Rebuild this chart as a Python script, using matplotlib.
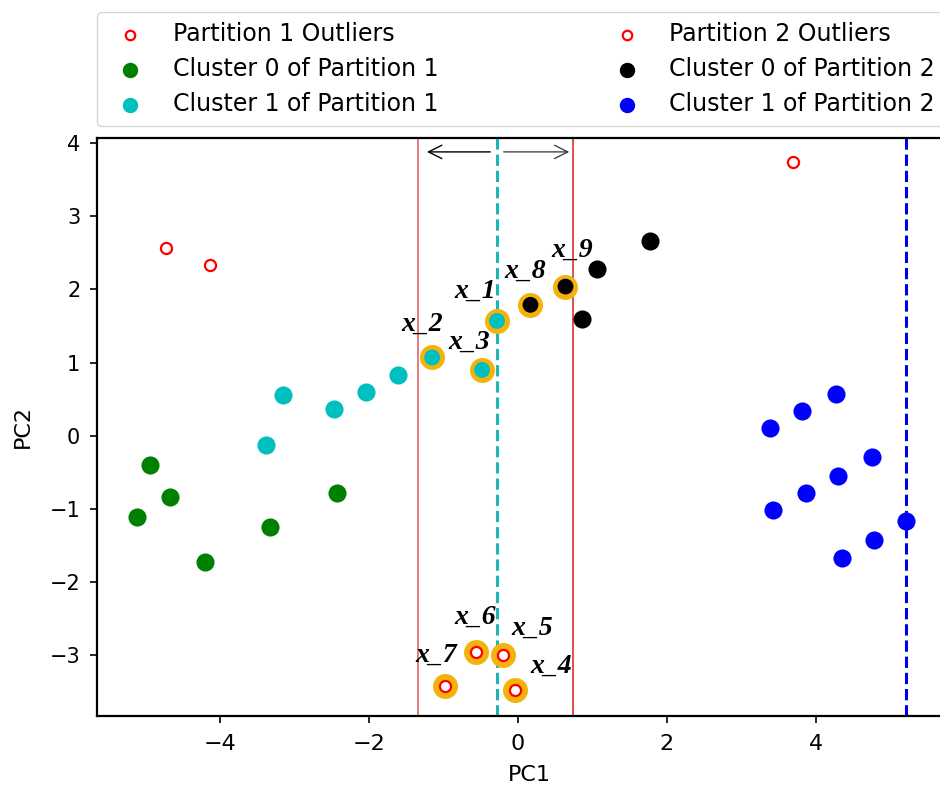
import matplotlib
matplotlib.use("Agg")
import matplotlib.pyplot as plt

# ---- data ----
p1_out_x = [-4.72, -4.13]
p1_out_y = [2.57, 2.34]
p2_out_x = [3.70]
p2_out_y = [3.74]

c0p1_x = [-4.94, -4.67, -5.11, -4.20, -3.33, -2.43]
c0p1_y = [-0.40, -0.83, -1.11, -1.73, -1.24, -0.78]

c1p1_x = [-3.38, -3.15, -2.47, -2.04, -1.61, -1.15, -0.48, -0.28]
c1p1_y = [-0.12, 0.56, 0.36, 0.60, 0.83, 1.07, 0.90, 1.57]

c0p2_x = [0.17, 0.64, 0.86, 1.06, 1.77]
c0p2_y = [1.79, 2.04, 1.60, 2.28, 2.66]

c1p2_x = [3.38, 3.81, 4.27, 3.42, 3.87, 4.30, 4.75, 4.35, 4.78, 5.21]
c1p2_y = [0.11, 0.34, 0.57, -1.01, -0.78, -0.55, -0.29, -1.67, -1.42, -1.17]

# outliers inside the overlap window
ov_out_x = [-0.04, -0.20, -0.56, -0.98]
ov_out_y = [-3.47, -2.99, -2.95, -3.42]

# highlighted points
hl_names = ["x_1", "x_2", "x_3", "x_4", "x_5", "x_6", "x_7", "x_8", "x_9"]
hl_x = [-0.28, -1.15, -0.48, -0.04, -0.20, -0.56, -0.98, 0.17, 0.64]
hl_y = [1.57, 1.07, 0.90, -3.47, -2.99, -2.95, -3.42, 1.79, 2.04]
# label offsets (points)
hl_dx = [-16, -7, -9, 26, 21, -1, -6, -4, 5]
hl_dy = [21, 24, 20, 17, 19, 25, 22, 24, 26]

window_lo = -1.34
window_hi = 0.74
center_p1 = -0.28
center_p2 = 5.21

HL = '#F5B20C'

fig = plt.figure(figsize=(9.4, 7.9), dpi=100)
ax = fig.add_axes([97/940, 74/790, 864/940, 578/790])

ax.axvline(window_lo, color='#e06565', lw=1.2, zorder=1)
ax.axvline(window_hi, color='#e03030', lw=1.2, zorder=1)
ax.axvline(center_p1, color='#20b5b5', lw=2.2, ls='--', zorder=1)
ax.axvline(center_p2, color='#0000ee', lw=2.2, ls='--', zorder=1)

# highlight discs
ax.scatter(hl_x, hl_y, s=324, color=HL, zorder=2, linewidths=0)

ax.scatter(p1_out_x + ov_out_x, p1_out_y + ov_out_y, s=64, facecolors='white',
           edgecolors='red', linewidths=1.6, zorder=4, label='Partition 1 Outliers')
ax.scatter(c0p1_x, c0p1_y, s=170, color='g', zorder=3, linewidths=0, label='Cluster 0 of Partition 1')
ax.scatter(c1p1_x, c1p1_y, s=170, color='c', zorder=3, linewidths=0, label='Cluster 1 of Partition 1')
ax.scatter(p2_out_x, p2_out_y, s=64, facecolors='white',
           edgecolors='red', linewidths=1.6, zorder=4, label='Partition 2 Outliers')
ax.scatter(c0p2_x, c0p2_y, s=170, color='k', zorder=3, linewidths=0, label='Cluster 0 of Partition 2')
ax.scatter(c1p2_x, c1p2_y, s=170, color='b', zorder=3, linewidths=0, label='Cluster 1 of Partition 2')

# highlight rings on top (shrinks visible inner point)
ax.scatter(hl_x, hl_y, s=175, facecolors='none', edgecolors=HL, linewidths=1.8, zorder=5)

for n, x, y, dx, dy in zip(hl_names, hl_x, hl_y, hl_dx, hl_dy):
    ax.annotate(n, (x, y), xytext=(dx, dy), textcoords='offset points',
                ha='center', va='center', fontsize=20, fontstyle='italic',
                fontweight='bold', family='Liberation Serif', zorder=6)

# arrows
ax.annotate('', xy=(window_lo + 0.12, 3.88), xytext=(center_p1 - 0.09, 3.88),
            arrowprops=dict(arrowstyle='->', color='black', lw=1.0, mutation_scale=24,
                            shrinkA=0, shrinkB=0))
ax.annotate('', xy=(window_hi - 0.05, 3.88), xytext=(center_p1 + 0.09, 3.88),
            arrowprops=dict(arrowstyle='->', color='#333333', lw=0.9, mutation_scale=24,
                            shrinkA=0, shrinkB=0))

ax.set_xlim(-5.65, 5.95)
ax.set_ylim(-3.83, 4.07)
ax.set_xticks([-4, -2, 0, 2, 4])
ax.set_yticks([-3, -2, -1, 0, 1, 2, 3, 4])
ax.tick_params(length=5, width=1.2)
ax.tick_params(axis='x', labelsize=16, pad=8)
ax.tick_params(axis='y', labelsize=15, pad=7)
for s in ax.spines.values():
    s.set_linewidth(1.6)
ax.set_xlabel('PC1', fontsize=16, labelpad=8)
ax.set_ylabel('PC2', fontsize=16, labelpad=12)

ax.legend(loc='lower left', bbox_to_anchor=(0, 1.021), borderaxespad=0,
          ncol=2, fontsize=17, frameon=True, labelspacing=0.48,
          columnspacing=7.0, scatterpoints=1, markerscale=0.85)

fig.savefig('out.png', dpi=100)
